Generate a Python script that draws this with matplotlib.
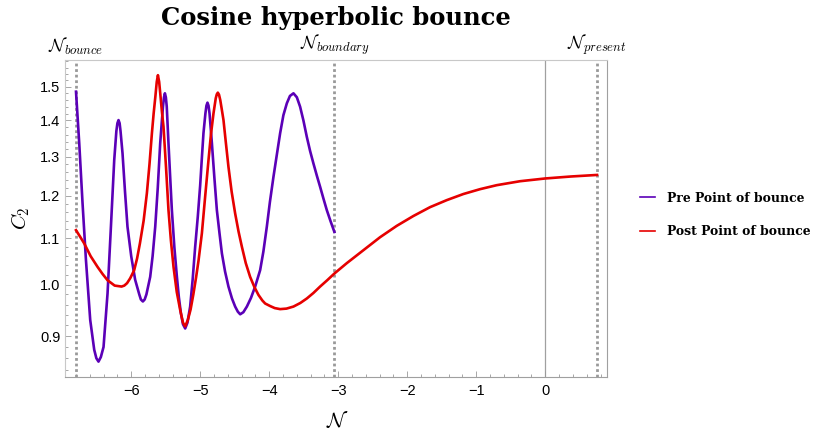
import numpy as np
import matplotlib
matplotlib.use('Agg')
import matplotlib.pyplot as plt
from matplotlib.ticker import FixedLocator, FormatStrFormatter, NullFormatter

plt.rcParams['mathtext.fontset'] = 'cm'
plt.rcParams['font.family'] = ['Liberation Sans', 'DejaVu Sans']

# pre point of bounce (purple)
pre_N = [-6.800, -6.753, -6.705, -6.656, -6.594, -6.536, -6.505, -6.474, -6.440, -6.401,
         -6.343, -6.294, -6.246, -6.215, -6.200, -6.184, -6.168, -6.155, -6.126, -6.090,
         -6.054, -6.000, -5.943, -5.883, -5.860, -5.831, -5.805, -5.780, -5.725, -5.690,
         -5.652, -5.615, -5.580, -5.540, -5.525, -5.512, -5.498, -5.485, -5.460, -5.435,
         -5.411, -5.375, -5.338, -5.310, -5.280, -5.250, -5.218, -5.185, -5.146, -5.110,
         -5.073, -5.035, -5.001, -4.975, -4.953, -4.925, -4.910, -4.895, -4.880, -4.865,
         -4.831, -4.795, -4.759, -4.720, -4.686, -4.640, -4.591, -4.540, -4.494, -4.455,
         -4.421, -4.375, -4.324, -4.265, -4.204, -4.132, -4.085, -4.035, -3.990, -3.939,
         -3.890, -3.842, -3.795, -3.745, -3.700, -3.649, -3.600, -3.553, -3.505, -3.456,
         -3.408, -3.360, -3.310, -3.263, -3.215, -3.166, -3.110, -3.056]
pre_C2 = [1.485, 1.336, 1.181, 1.052, 0.930, 0.875, 0.860, 0.854, 0.862, 0.880,
          0.982, 1.126, 1.291, 1.370, 1.392, 1.401, 1.392, 1.370, 1.309, 1.210,
          1.126, 1.060, 1.010, 0.980, 0.970, 0.966, 0.970, 0.980, 1.016, 1.060,
          1.126, 1.220, 1.336, 1.440, 1.468, 1.480, 1.468, 1.440, 1.336, 1.245,
          1.165, 1.080, 1.016, 0.975, 0.943, 0.922, 0.914, 0.925, 0.956, 1.010,
          1.081, 1.150, 1.225, 1.300, 1.364, 1.420, 1.443, 1.452, 1.443, 1.420,
          1.336, 1.245, 1.165, 1.110, 1.066, 1.027, 0.996, 0.972, 0.956, 0.946,
          0.941, 0.945, 0.956, 0.973, 0.996, 1.030, 1.070, 1.126, 1.185, 1.247,
          1.305, 1.364, 1.415, 1.450, 1.472, 1.480, 1.468, 1.440, 1.400, 1.354,
          1.315, 1.282, 1.250, 1.222, 1.193, 1.165, 1.138, 1.114]

# post point of bounce (red)
post_N = [-6.800, -6.740, -6.681, -6.588, -6.488, -6.415, -6.343, -6.240, -6.140, -6.100,
          -6.060, -6.015, -5.957, -5.915, -5.874, -5.820, -5.773, -5.735, -5.700, -5.675,
          -5.650, -5.630, -5.613, -5.595, -5.575, -5.555, -5.532, -5.495, -5.460, -5.425,
          -5.387, -5.340, -5.290, -5.250, -5.218, -5.180, -5.140, -5.100, -5.060, -5.025,
          -4.976, -4.930, -4.880, -4.845, -4.808, -4.775, -4.760, -4.745, -4.728, -4.710,
          -4.690, -4.663, -4.630, -4.591, -4.545, -4.494, -4.445, -4.397, -4.340, -4.277,
          -4.215, -4.156, -4.100, -4.059, -3.987, -3.920, -3.842, -3.750, -3.649, -3.550,
          -3.455, -3.360, -3.263, -3.160, -3.056, -2.876, -2.636, -2.394, -2.152, -1.911,
          -1.670, -1.428, -1.187, -0.946, -0.704, -0.366, 0.000, 0.370, 0.749]
post_C2 = [1.118, 1.103, 1.088, 1.060, 1.037, 1.022, 1.009, 0.998, 0.996, 0.998,
           1.003, 1.013, 1.030, 1.055, 1.088, 1.140, 1.206, 1.280, 1.364, 1.420,
           1.470, 1.515, 1.536, 1.515, 1.470, 1.425, 1.382, 1.270, 1.165, 1.095,
           1.037, 0.985, 0.949, 0.925, 0.918, 0.930, 0.950, 0.980, 1.015, 1.050,
           1.111, 1.195, 1.291, 1.360, 1.420, 1.465, 1.477, 1.482, 1.476, 1.460,
           1.435, 1.401, 1.340, 1.273, 1.210, 1.157, 1.115, 1.081, 1.045, 1.016,
           0.995, 0.979, 0.968, 0.962, 0.957, 0.953, 0.951, 0.952, 0.956, 0.963,
           0.972, 0.983, 0.996, 1.009, 1.023, 1.045, 1.073, 1.102, 1.128, 1.151,
           1.172, 1.189, 1.204, 1.216, 1.226, 1.236, 1.243, 1.248, 1.252]

marker_N = [-6.80, -3.056, 0.749]
marker_labels = [r'$\mathcal{N}_{bounce}$', r'$\mathcal{N}_{boundary}$', r'$\mathcal{N}_{present}$']

y_major = [0.9, 1.0, 1.1, 1.2, 1.3, 1.4, 1.5]

fig = plt.figure(figsize=(8.17, 4.36), dpi=100)
ax = fig.add_axes([0.079, 0.136, 0.6643, 0.726])

purple = '#5b00b7'
red = '#e60000'

ax.plot(pre_N, pre_C2, color=purple, lw=1.9, label='Pre Point of bounce', solid_joinstyle='round')
ax.plot(post_N, post_C2, color=red, lw=1.9, label='Post Point of bounce', solid_joinstyle='round')

ax.axvline(0, color='#a0a0a0', lw=0.9, zorder=0)
for xm, lab in zip(marker_N, marker_labels):
    ax.axvline(xm, color='#999999', lw=2.0, linestyle=(0, (1, 1)), zorder=1)
    ax.text(xm, 1.01, lab, transform=ax.get_xaxis_transform(), ha='center', va='bottom', fontsize=13)

ax.set_yscale('log')
ax.set_xlim(-6.966, 0.898)
ax.set_ylim(0.828, 1.584)

ax.yaxis.set_major_locator(FixedLocator(y_major))
ax.yaxis.set_major_formatter(FormatStrFormatter('%.1f'))
ax.yaxis.set_minor_locator(FixedLocator(np.arange(0.84, 1.59, 0.02)))
ax.yaxis.set_minor_formatter(NullFormatter())
ax.set_xticks([-6, -5, -4, -3, -2, -1, 0])
ax.xaxis.set_minor_locator(FixedLocator(np.arange(-6.8, 0.9, 0.2)))

ax.tick_params(which='both', direction='in', color='#999999', width=0.6, labelsize=10.5,
               top=False, right=False)
ax.tick_params(which='major', length=4)
ax.tick_params(which='minor', length=2)
ax.tick_params(axis='y', pad=3)
ax.tick_params(axis='x', pad=5)

ax.spines['left'].set_color('#c8c8c8')
ax.spines['top'].set_color('#c8c8c8')
ax.spines['bottom'].set_color('#a0a0a0')
ax.spines['right'].set_color('#a0a0a0')
for s in ax.spines.values():
    s.set_linewidth(0.8)

ax.set_xlabel(r'$\mathcal{N}$', fontsize=15)
ax.xaxis.set_label_coords(0.502, -0.105)
ax.set_ylabel(r'$C_2$', fontsize=15)
ax.yaxis.set_label_coords(-0.06, 0.5)

ax.set_title('Cosine hyperbolic bounce', fontsize=17.5, fontweight='bold',
             family='DejaVu Serif', pad=25.5)

leg = fig.legend(loc='center left', bbox_to_anchor=(0.783, 0.507), frameon=False,
                 prop={'family': 'DejaVu Serif', 'weight': 'bold', 'size': 8.9},
                 handlelength=1.2, handletextpad=1.0, labelspacing=1.65,
                 borderpad=0, borderaxespad=0)
for line in leg.get_lines():
    line.set_linewidth(1.2)

fig.savefig('out.png', dpi=100)
